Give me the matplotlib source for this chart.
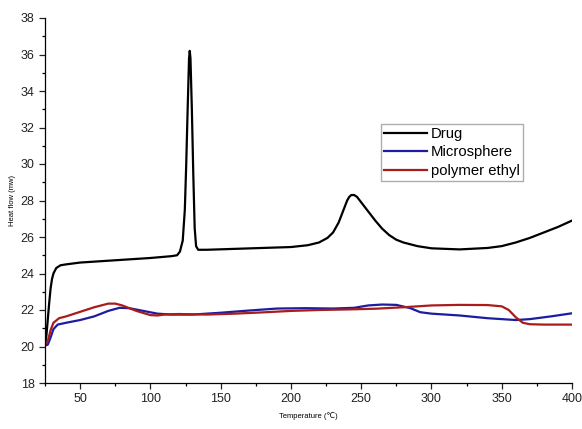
import matplotlib
matplotlib.use("Agg")
import matplotlib.pyplot as plt
from matplotlib.ticker import MultipleLocator

plt.rcParams['font.family'] = ['Liberation Sans', 'DejaVu Sans']

# DSC curves: temperature (C) and heat flow (mW)
drug_x = [25, 26, 27, 28, 29, 30, 31, 33, 36, 40, 50, 70, 100, 115, 119, 121, 123,
          124.5, 125.5, 126.5, 127.5, 128, 128.5, 129.5, 130.5, 131.5, 132.5, 134,
          140, 160, 180, 200, 212, 220, 226, 230, 234, 238, 240, 241.5, 243, 245, 247,
          249, 252, 256, 260, 265, 270, 275, 280, 290, 300, 320, 340, 350, 360, 370,
          380, 390, 400]
drug_y = [20.1, 20.6, 21.5, 22.4, 23.2, 23.7, 24.0, 24.3, 24.45, 24.5, 24.6, 24.7, 24.85,
          24.95, 25.0, 25.2, 25.8, 27.5, 30.0, 33.0, 35.8, 36.2, 35.8, 33.0, 29.5, 26.5,
          25.5, 25.3, 25.3, 25.35, 25.4, 25.45, 25.55, 25.7, 25.95, 26.25, 26.8, 27.6,
          28.0, 28.2, 28.3, 28.3, 28.2, 28.0, 27.7, 27.3, 26.9, 26.45, 26.1, 25.85, 25.7,
          25.5, 25.38, 25.32, 25.4, 25.5, 25.7, 25.95, 26.25, 26.55, 26.9]

micro_x = [25, 27, 29, 31, 34, 40, 50, 60, 70, 78, 85, 95, 105, 115, 130, 150, 170, 190,
           210, 230, 245, 255, 265, 275, 285, 292, 300, 320, 340, 360, 370, 385, 400]
micro_y = [20.05, 20.1, 20.5, 20.95, 21.2, 21.3, 21.45, 21.65, 21.95, 22.12, 22.1, 21.95,
           21.8, 21.75, 21.75, 21.85, 21.97, 22.08, 22.1, 22.08, 22.12, 22.25, 22.3, 22.28,
           22.1, 21.88, 21.8, 21.7, 21.55, 21.45, 21.5, 21.65, 21.82]

poly_x = [25, 27, 29, 31, 35, 40, 50, 60, 70, 75, 80, 90, 100, 105, 110, 120, 140, 160,
          180, 200, 220, 240, 260, 280, 300, 320, 340, 350, 355, 360, 365, 370, 380, 400]
poly_y = [20.1, 20.3, 20.9, 21.3, 21.55, 21.65, 21.9, 22.15, 22.35, 22.35, 22.25, 21.95,
          21.72, 21.7, 21.75, 21.78, 21.75, 21.8, 21.87, 21.95, 22.0, 22.03, 22.07, 22.15,
          22.25, 22.28, 22.27, 22.2, 22.0, 21.6, 21.3, 21.22, 21.2, 21.2]

fig = plt.figure(figsize=(5.82, 4.29), dpi=100)
ax = fig.add_axes([45 / 582, 46 / 429, 527 / 582, 365 / 429])

ax.plot(drug_x, drug_y, color='black', lw=1.6, label='Drug')
ax.plot(micro_x, micro_y, color='#1c1ca0', lw=1.6, label='Microsphere')
ax.plot(poly_x, poly_y, color='#a81c1c', lw=1.6, label='polymer ethyl')

ax.set_xlim(25, 400)
ax.set_ylim(18, 38)
ax.xaxis.set_major_locator(MultipleLocator(50))
ax.xaxis.set_minor_locator(MultipleLocator(25))
ax.yaxis.set_major_locator(MultipleLocator(2))
ax.yaxis.set_minor_locator(MultipleLocator(1))
ax.tick_params(which='major', direction='out', length=4, width=0.9, labelsize=9, colors='#222222')
ax.tick_params(which='minor', direction='out', length=2.5, width=0.9)

ax.spines['top'].set_visible(False)
ax.spines['right'].set_visible(False)
for s in ('left', 'bottom'):
    ax.spines[s].set_linewidth(0.9)

ax.set_xlabel('Temperature (\u2103)', fontsize=5.5, labelpad=5)
ax.set_ylabel('Heat flow (mw)', fontsize=5.5, labelpad=3)

leg = ax.legend(loc='upper left', bbox_to_anchor=(0.638, 0.71), borderaxespad=0,
                fontsize=10.7, handlelength=2.85, handletextpad=0.3, labelspacing=0.3,
                fancybox=False, frameon=True, borderpad=0.2)
leg.get_frame().set_edgecolor('#999999')
leg.get_frame().set_linewidth(1.0)

fig.savefig('out.png', dpi=100)
